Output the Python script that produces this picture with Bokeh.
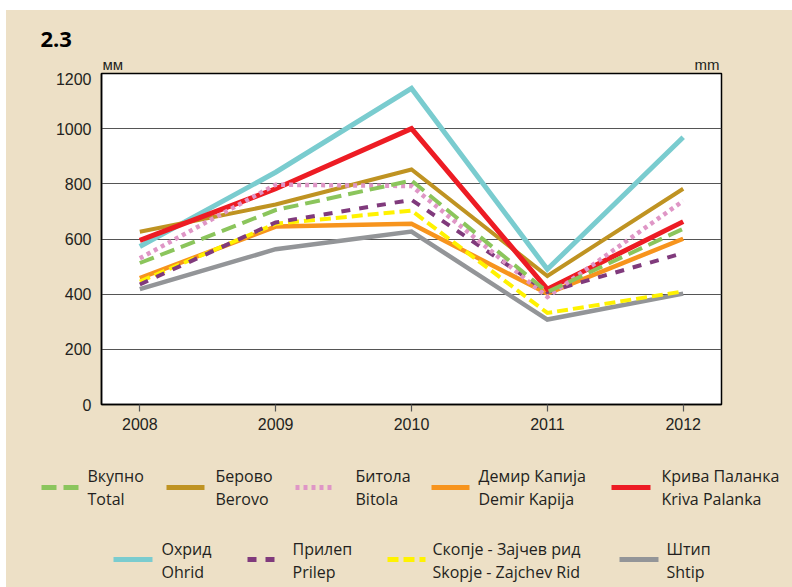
from bokeh.plotting import figure
from bokeh.models import Range1d, FixedTicker, Spacer
from bokeh.layouts import column, row
from bokeh.embed import file_html
from bokeh.resources import INLINE
from bokeh.core.properties import value

# ---------------- data ----------------
years = [2008, 2009, 2010, 2011, 2012]
y_ticks = [0, 200, 400, 600, 800, 1000, 1200]

total = [513, 705, 812, 408, 637]
berovo = [626, 725, 852, 466, 782]
bitola = [530, 797, 792, 390, 738]
demir_kapija = [458, 645, 655, 402, 601]
kriva_palanka = [595, 782, 1000, 418, 663]
ohrid = [573, 842, 1146, 490, 969]
prilep = [435, 660, 742, 408, 549]
skopje = [446, 655, 703, 332, 410]
shtip = [418, 563, 627, 308, 402]

names_mk = ["Вкупно", "Берово", "Битола", "Демир Капија", "Крива Паланка",
            "Охрид", "Прилеп", "Скопје - Зајчев рид", "Штип"]
names_en = ["Total", "Berovo", "Bitola", "Demir Kapija", "Kriva Palanka",
            "Ohrid", "Prilep", "Skopje - Zajchev Rid", "Shtip"]
values = [total, berovo, bitola, demir_kapija, kriva_palanka,
          ohrid, prilep, skopje, shtip]

chart_number = "2.3"
unit_left = "мм"
unit_right = "mm"

# ---------------- styles ----------------
BG = "#EDE0C6"
TXT = "#231F20"
colors = ["#8BC55C", "#BF9322", "#DF96C6", "#F7941D", "#ED1C24",
          "#7ACCCF", "#803A7C", "#FFF200", "#939598"]
widths = [4, 4, 4.5, 4.5, 5, 5, 4, 4, 4.5]
dashes = ["15 7", "solid", "4 4", "solid", "solid",
          "solid", "9 9", "11 5", "solid"]
draw_order = [8, 5, 3, 7, 6, 1, 4, 2, 0]

# legend layout (page pixel positions)
leg_line_x = [(41, 79), (166, 204), (295, 333), (431, 469), (611, 650),
              (113, 152), (247, 281), (387, 425), (619, 658)]
leg_text_x = [87, 215, 355, 478, 661, 161, 292, 432, 666]
leg_row = [0, 0, 0, 0, 0, 1, 1, 1, 1]
row_line_y = [487, 559]
row_text_y = [(475, 498), (548, 571)]

X0, X1 = 2007.718, 2012.282
W = 786


def no_align(fig):
    try:
        fig.frame_align = False
    except Exception:
        pass


# ---------------- header ----------------
head = figure(width=W, height=62,
              x_range=Range1d(6, 792), y_range=Range1d(72, 10),
              x_axis_type=None, y_axis_type=None,
              output_backend="svg", toolbar_location=None, min_border=0,
              background_fill_color=BG, border_fill_color=BG,
              outline_line_color=None)
no_align(head)
head.text(x=[40], y=[39], text=[chart_number], text_font=value("Open Sans"),
          text_font_style="bold", text_font_size="22px", text_color="black",
          text_baseline="alphabetic", text_align="left")
head.text(x=[102], y=[64], text=[unit_left], text_font=value("Liberation Sans"),
          text_font_size="15px", text_color=TXT,
          text_baseline="alphabetic", text_align="left")
head.text(x=[719], y=[64], text=[unit_right], text_font=value("Liberation Sans"),
          text_font_size="15px", text_color=TXT,
          text_baseline="alphabetic", text_align="right")

# ---------------- chart ----------------
p = figure(width=W, height=376,
           x_range=Range1d(X0, X1), y_range=Range1d(0, 1200),
           output_backend="svg", toolbar_location=None,
           min_border_left=95, min_border_right=71,
           min_border_top=1, min_border_bottom=44,
           background_fill_color="white", border_fill_color=BG,
           outline_line_color="black", outline_line_width=1.5)
no_align(p)

p.xgrid.visible = False
p.ygrid.ticker = FixedTicker(ticks=y_ticks)
p.ygrid.grid_line_color = "#555555"
p.ygrid.grid_line_width = 1.2

p.xaxis.ticker = FixedTicker(ticks=years)
p.xaxis.major_tick_out = 7
p.xaxis.major_tick_in = 0
p.xaxis.major_tick_line_color = "#555555"
p.xaxis.major_tick_line_width = 1.2
p.xaxis.minor_tick_line_color = None
p.xaxis.major_label_standoff = 6

p.yaxis.ticker = FixedTicker(ticks=y_ticks)
p.yaxis.major_tick_out = 0
p.yaxis.major_tick_in = 0
p.yaxis.minor_tick_line_color = None
p.yaxis.major_label_standoff = 10

for ax in (p.xaxis, p.yaxis):
    ax.axis_line_color = "black"
    ax.axis_line_width = 1.5
    ax.major_label_text_font = "Liberation Sans"
    ax.major_label_text_font_size = "16px"
    ax.major_label_text_color = TXT

for i in draw_order:
    p.line(years, values[i], line_color=colors[i], line_width=widths[i],
           line_dash=dashes[i], line_join="miter")

# ---------------- legend ----------------
leg = figure(width=W, height=139,
             x_range=Range1d(6, 792), y_range=Range1d(587, 448),
             x_axis_type=None, y_axis_type=None,
             output_backend="svg", toolbar_location=None, min_border=0,
             background_fill_color=BG, border_fill_color=BG,
             outline_line_color=None)
no_align(leg)

for i in range(len(values)):
    r = leg_row[i]
    xa, xb = leg_line_x[i]
    leg.line([xa, xb], [row_line_y[r], row_line_y[r]], line_color=colors[i],
             line_width=5, line_dash=dashes[i])
    leg.text(x=[leg_text_x[i], leg_text_x[i]],
             y=[row_text_y[r][0], row_text_y[r][1]],
             text=[names_mk[i], names_en[i]],
             text_font=value("Open Sans"), text_font_size="16px",
             text_color=TXT, text_baseline="middle", text_align="left")

inner = column(head, p, leg, spacing=0, styles={"background-color": BG})
layout = column(Spacer(width=792, height=10),
                row(Spacer(width=6, height=577), inner, spacing=0),
                spacing=0)
open("out.html", "w").write(file_html(layout, INLINE))
